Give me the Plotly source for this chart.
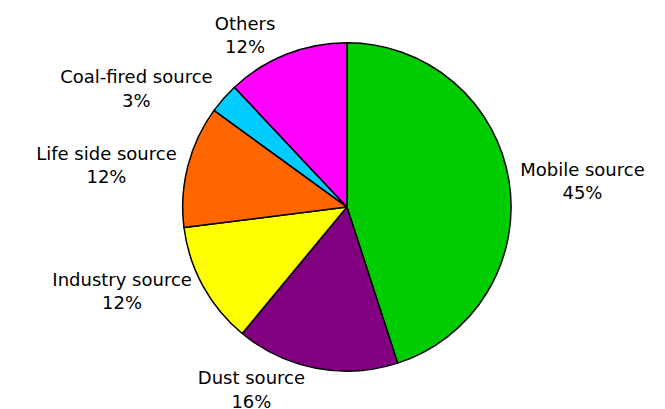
import plotly.graph_objects as go

labels = ["Mobile source", "Dust source", "Industry source", "Life side source", "Coal-fired source", "Others"]
values = [45, 16, 12, 12, 3, 12]
colors = ["#00CC00", "#800080", "#FFFF00", "#FF6600", "#00CCFF", "#FF00FF"]

W, H = 665, 409
cx, cy, r = 338.5, 205, 183

fig = go.Figure(go.Pie(
    labels=labels,
    values=values,
    sort=False,
    direction="clockwise",
    rotation=0,
    marker=dict(colors=colors, line=dict(color="black", width=1.5)),
    texttemplate="%{label}<br>%{percent:.0%}",
    textposition="outside",
    textfont=dict(family="DejaVu Sans", size=18, color="black"),
    showlegend=False,
    hoverinfo="skip",
    domain=dict(x=[(cx - r) / W, (cx + r) / W], y=[(H - cy - r) / H, (H - cy + r) / H]),
))

fig.update_layout(
    width=W, height=H,
    margin=dict(l=0, r=0, t=0, b=0),
    paper_bgcolor="white",
    plot_bgcolor="white",
)

fig.write_html("out.html")
